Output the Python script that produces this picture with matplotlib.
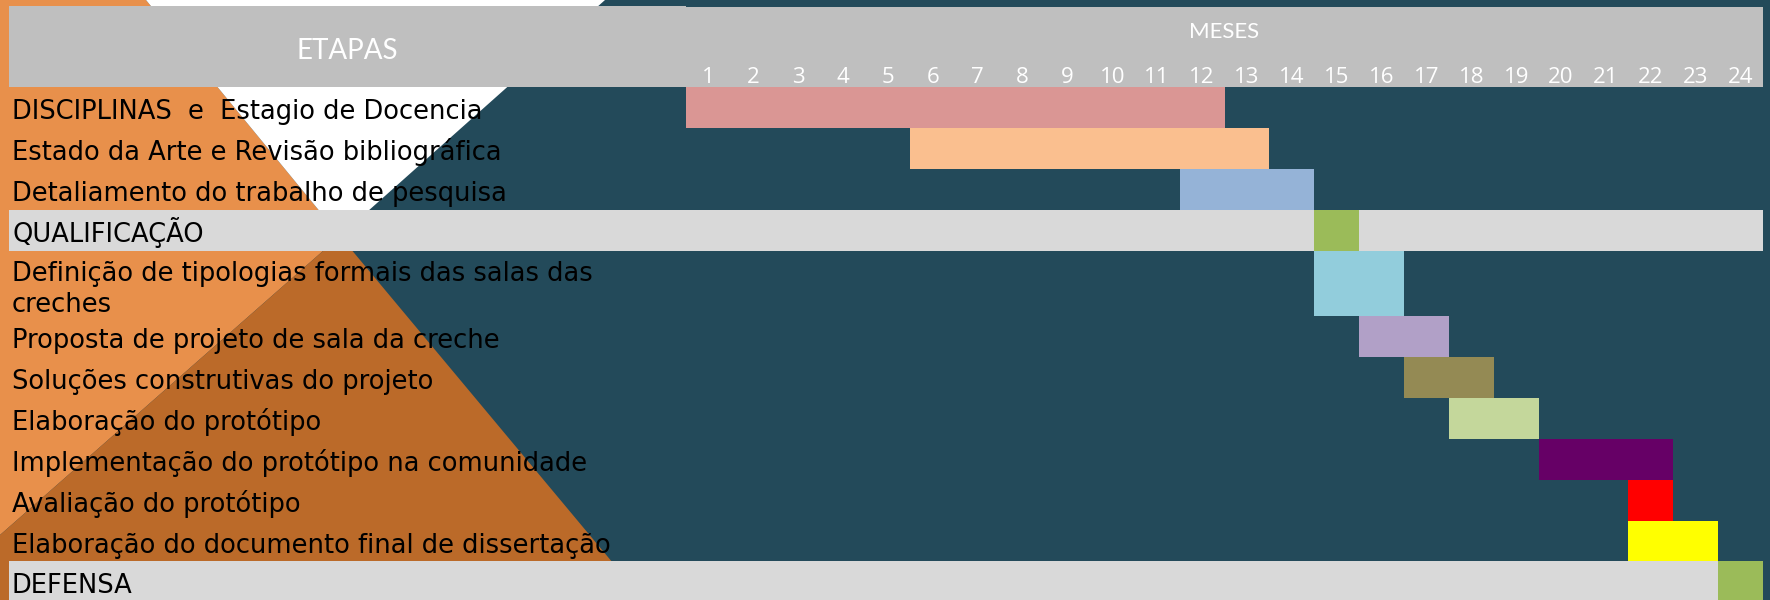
import matplotlib
matplotlib.use("Agg")
import matplotlib.pyplot as plt
from matplotlib.patches import Polygon, Rectangle

# ---------------- data ----------------
tasks = [
    "DISCIPLINAS  e  Estagio de Docencia",
    "Estado da Arte e Revisão bibliográfica",
    "Detaliamento do trabalho de pesquisa",
    "QUALIFICAÇÃO",
    "Definição de tipologias formais das salas das\ncreches",
    "Proposta de projeto de sala da creche",
    "Soluções construtivas do projeto",
    "Elaboração do protótipo",
    "Implementação do protótipo na comunidade",
    "Avaliação do protótipo",
    "Elaboração do documento final de dissertação",
    "DEFENSA",
]
start_month = [1, 6, 12, 15, 15, 16, 17, 18, 20, 22, 22, 24]
end_month = [12, 13, 14, 15, 16, 17, 18, 19, 22, 22, 23, 24]
bar_colors = ["#DA9694", "#FABF8F", "#95B3D7", "#9BBB59", "#92CDDC", "#B1A0C7",
              "#948A54", "#C4D79B", "#660066", "#FF0000", "#FFFF00", "#9BBB59"]
milestone_rows = ["QUALIFICAÇÃO", "DEFENSA"]
months = list(range(1, 25))
header_left = "ETAPAS"
header_right = "MESES"

# ---------------- layout (pixels) ----------------
W, H = 1770, 600
row_h = [41, 41, 41, 41, 65, 41, 41, 41, 41, 41, 40, 41]
table_left, label_right, table_right = 9, 686, 1763
header_top, header_bot = 6, 87

TEAL = "#234A5A"
LORANGE = "#E8904B"
DORANGE = "#BB6A29"

fig = plt.figure(figsize=(W / 100, H / 100), dpi=100)
fig.patch.set_facecolor(TEAL)

bg = fig.add_axes([0, 0, 1, 1])
bg.set_xlim(0, W)
bg.set_ylim(H, 0)
bg.axis("off")
bg.set_facecolor(TEAL)

# decorative background shapes (two crossing lines)
apex = (340, 236)
bg.add_patch(Polygon([(0, 0), (146, 0), apex, (0, 535)], closed=True, color=LORANGE, lw=0))
bg.add_patch(Polygon([(146, 0), (605, 0), apex], closed=True, color="white", lw=0))
bg.add_patch(Polygon([apex, (0, 535), (0, H + 5), (648, H + 5)], closed=True, color=DORANGE, lw=0))

# header
bg.add_patch(Rectangle((table_left, header_top), label_right - table_left, header_bot - header_top,
                       color="#BFBFBF", lw=0))
bg.add_patch(Rectangle((label_right, header_top + 1), table_right - label_right, header_bot - header_top - 1,
                       color="#BFBFBF", lw=0))
bg.text((table_left + label_right) / 2, 59, header_left, color="white", fontsize=20,
        family=["Lato", "DejaVu Sans"], fontweight="normal", ha="center", va="baseline")
bg.text((label_right + table_right) / 2, 38, header_right, color="white", fontsize=16,
        family=["Lato", "DejaVu Sans"], fontweight="normal", ha="center", va="baseline")

# row tops
tops = []
y = header_bot
for h in row_h:
    tops.append(y)
    y += h
total_h = y - header_bot

LABEL_FS = 18.5
# milestone grey rows & labels
for name, top, h in zip(tasks, tops, row_h):
    if name in milestone_rows:
        bg.add_patch(Rectangle((table_left, top), table_right - table_left, h, color="#D9D9D9", lw=0))
    lines = name.split("\n")
    if len(lines) == 1:
        bg.text(12, top + 32, lines[0], fontsize=LABEL_FS, color="black",
                family=["DejaVu Sans"], ha="left", va="baseline")
    else:
        for i, ln in enumerate(lines):
            bg.text(12, top + 30 + 31 * i, ln, fontsize=LABEL_FS, color="black",
                    family=["DejaVu Sans"], ha="left", va="baseline")

# gantt axes in month / pixel-row units
gx0 = label_right / W
gw = (table_right - label_right) / W
gb = (H - (header_bot + total_h)) / H
gh = total_h / H
ax = fig.add_axes([gx0, gb, gw, gh])
ax.set_xlim(0.5, 24.5)
ax.set_ylim(total_h, 0)
ax.axis("off")
ax.patch.set_visible(False)

rel_tops = [t - header_bot for t in tops]
ax.barh(rel_tops, [e - s + 1 for s, e in zip(start_month, end_month)],
        left=[s - 0.5 for s in start_month], height=row_h, align="edge",
        color=bar_colors, lw=0)

for m in months:
    ax.text(m, -(header_bot - 83), str(m), color="white", fontsize=16,
            family=["Open Sans", "DejaVu Sans"], ha="center", va="baseline", clip_on=False)

fig.savefig("out.png", dpi=100, facecolor=TEAL)
